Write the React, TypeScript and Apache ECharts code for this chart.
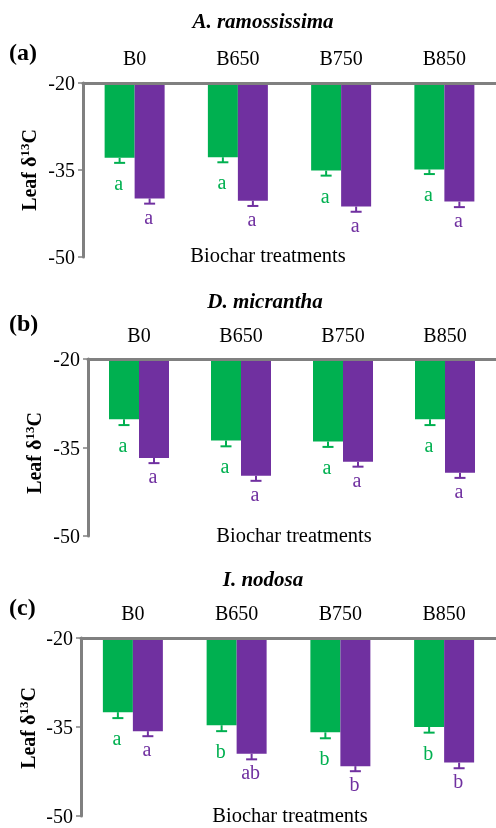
import React, { useEffect, useRef } from "react";
import * as echarts from "echarts";

const categories = ["B0", "B650", "B750", "B850"];
const yTicks = [-50, -35, -20];

// Panel (a) A. ramossissima
const aGreen = [-32.9, -32.8, -35.1, -34.9];
const aGreenErr = [0.87, 0.87, 0.87, 0.8];
const aPurple = [-39.9, -40.3, -41.3, -40.45];
const aPurpleErr = [0.9, 0.9, 0.9, 0.95];
const aGreenLetters = ["a", "a", "a", "a"];
const aPurpleLetters = ["a", "a", "a", "a"];

// Panel (b) D. micrantha
const bGreen = [-30.2, -33.8, -34.0, -30.2];
const bGreenErr = [1.0, 1.0, 0.9, 1.0];
const bPurple = [-36.8, -39.8, -37.4, -39.3];
const bPurpleErr = [0.85, 0.85, 0.85, 0.85];
const bGreenLetters = ["a", "a", "a", "a"];
const bPurpleLetters = ["a", "a", "a", "a"];

// Panel (c) I. nodosa
const cGreen = [-32.5, -34.7, -35.9, -35.0];
const cGreenErr = [1.0, 1.0, 1.0, 0.95];
const cPurple = [-35.7, -39.5, -41.6, -41.0];
const cPurpleErr = [0.85, 0.95, 0.85, 0.95];
const cGreenLetters = ["a", "b", "b", "b"];
const cPurpleLetters = ["a", "ab", "b", "b"];

const titles = ["A. ramossissima", "D. micrantha", "I. nodosa"];
const panelTags = ["(a)", "(b)", "(c)"];
const xName = "Biochar treatments";

const GREEN = "#00B050";
const PURPLE = "#7030A0";
const GRAY = "#808080";
const FONT = "'Liberation Serif', 'Times New Roman', serif";

export default function App() {
  const ref = useRef<HTMLDivElement>(null);

  useEffect(() => {
    if (!ref.current) return;
    const chart = echarts.init(ref.current, undefined, { renderer: "svg" });

    const panels = [
      { green: aGreen, gErr: aGreenErr, purple: aPurple, pErr: aPurpleErr, gL: aGreenLetters, pL: aPurpleLetters },
      { green: bGreen, gErr: bGreenErr, purple: bPurple, pErr: bPurpleErr, gL: bGreenLetters, pL: bPurpleLetters },
      { green: cGreen, gErr: cGreenErr, purple: cPurple, pErr: cPurpleErr, gL: cGreenLetters, pL: cPurpleLetters },
    ];

    const grids = [
      { left: 83, top: 83, width: 413, height: 174 },
      { left: 88, top: 359, width: 413, height: 177 },
      { left: 81, top: 638, width: 419, height: 178 },
    ];
    const labelMargins = [15, 14, 15];
    const xNamePos = [
      [268, 255],
      [294, 535],
      [290, 815],
    ];
    const yNamePos = [
      [29, 170],
      [34, 453],
      [28, 728],
    ];
    const titlePos = [
      [263, 21],
      [265, 301],
      [263, 579],
    ];
    const tagPos = [
      [9, 52],
      [9, 323],
      [9, 607],
    ];

    const makeErr = (
      panel: number,
      name: string,
      vals: number[],
      errs: number[],
      letters: string[],
      color: string,
      offsetX: number,
      letterDy: number
    ) => ({
      type: "custom",
      name,
      xAxisIndex: panel,
      yAxisIndex: panel,
      z: 4,
      data: vals.map((v, i) => [i, v, errs[i]]),
      encode: { x: 0, y: 1 },
      renderItem: (params: any, api: any) => {
        const i = api.value(0);
        const v = api.value(1);
        const e = api.value(2);
        const p0 = api.coord([i, v]);
        const p1 = api.coord([i, v - e]);
        const x = p0[0] + offsetX;
        return {
          type: "group",
          children: [
            { type: "line", shape: { x1: x, y1: p0[1], x2: x, y2: p1[1] }, style: { stroke: color, lineWidth: 2 } },
            { type: "line", shape: { x1: x - 5.5, y1: p1[1], x2: x + 5.5, y2: p1[1] }, style: { stroke: color, lineWidth: 2 } },
            {
              type: "text",
              x: x - 1,
              y: p1[1] + letterDy,
              style: {
                text: letters[i],
                fill: color,
                fontSize: 20,
                fontFamily: FONT,
                align: "center",
                verticalAlign: "middle",
              },
            },
          ],
        };
      },
    });

    const series: any[] = [];
    panels.forEach((p, k) => {
      series.push({
        type: "bar",
        name: "green",
        xAxisIndex: k,
        yAxisIndex: k,
        data: p.green,
        barWidth: 30,
        barGap: "0%",
        itemStyle: { color: GREEN },
        clip: true,
      });
      series.push({
        type: "bar",
        name: "purple",
        xAxisIndex: k,
        yAxisIndex: k,
        data: p.purple,
        barWidth: 30,
        barGap: "0%",
        itemStyle: { color: PURPLE },
        clip: true,
      });
      series.push(makeErr(k, "green-err", p.green, p.gErr, p.gL, GREEN, -15, 20));
      series.push(makeErr(k, "purple-err", p.purple, p.pErr, p.pL, PURPLE, 15, 13));
    });

    const graphics: any[] = [];
    for (let k = 0; k < 3; k++) {
      graphics.push({
        type: "text",
        x: titlePos[k][0],
        y: titlePos[k][1],
        style: {
          text: titles[k],
          fontSize: 21,
          fontWeight: "bold",
          fontStyle: "italic",
          fontFamily: FONT,
          fill: "#000",
          align: "center",
          verticalAlign: "middle",
        },
      });
      graphics.push({
        type: "text",
        x: tagPos[k][0],
        y: tagPos[k][1],
        style: {
          text: panelTags[k],
          fontSize: 24,
          fontWeight: "bold",
          fontFamily: FONT,
          fill: "#000",
          align: "left",
          verticalAlign: "middle",
        },
      });
      graphics.push({
        type: "text",
        x: xNamePos[k][0],
        y: xNamePos[k][1],
        style: {
          text: xName,
          fontSize: 20.5,
          fontFamily: FONT,
          fill: "#000",
          align: "center",
          verticalAlign: "middle",
        },
      });
      graphics.push({
        type: "text",
        x: yNamePos[k][0],
        y: yNamePos[k][1],
        rotation: Math.PI / 2,
        style: {
          text: "{m|Leaf δ}{s|13}{m|C}",
          align: "center",
          verticalAlign: "middle",
          fill: "#000",
          rich: {
            m: { fontSize: 20, fontWeight: "bold", fontFamily: FONT, fill: "#000", lineHeight: 22 },
            s: { fontSize: 13, fontWeight: "bold", fontFamily: FONT, fill: "#000", verticalAlign: "top", lineHeight: 14 },
          },
        },
      });
    }

    chart.setOption({
      animation: false,
      textStyle: { fontFamily: FONT },
      grid: grids.map((g) => ({ ...g, containLabel: false })),
      xAxis: grids.map((_, k) => ({
        type: "category",
        gridIndex: k,
        data: categories,
        position: "top",
        z: 6,
        axisLine: { show: true, onZero: false, lineStyle: { color: GRAY, width: 3 } },
        axisTick: { show: false },
        axisLabel: { fontSize: 20, color: "#000", fontFamily: FONT, margin: labelMargins[k] },
        splitLine: { show: false },
      })),
      yAxis: grids.map((_, k) => ({
        type: "value",
        gridIndex: k,
        min: -50,
        max: -20,
        z: 6,
        axisLine: { show: true, lineStyle: { color: GRAY, width: 3 } },
        axisTick: { show: true, length: 5, lineStyle: { color: GRAY, width: 1.5 }, customValues: yTicks },
        axisLabel: { fontSize: 20, color: "#000", fontFamily: FONT, margin: 8, customValues: yTicks },
        splitLine: { show: false },
      })),
      series,
      graphic: graphics,
    });

    return () => chart.dispose();
  }, []);

  return <div ref={ref} style={{ position: "fixed", left: 0, top: 0, width: 496, height: 828 }} />;
}
